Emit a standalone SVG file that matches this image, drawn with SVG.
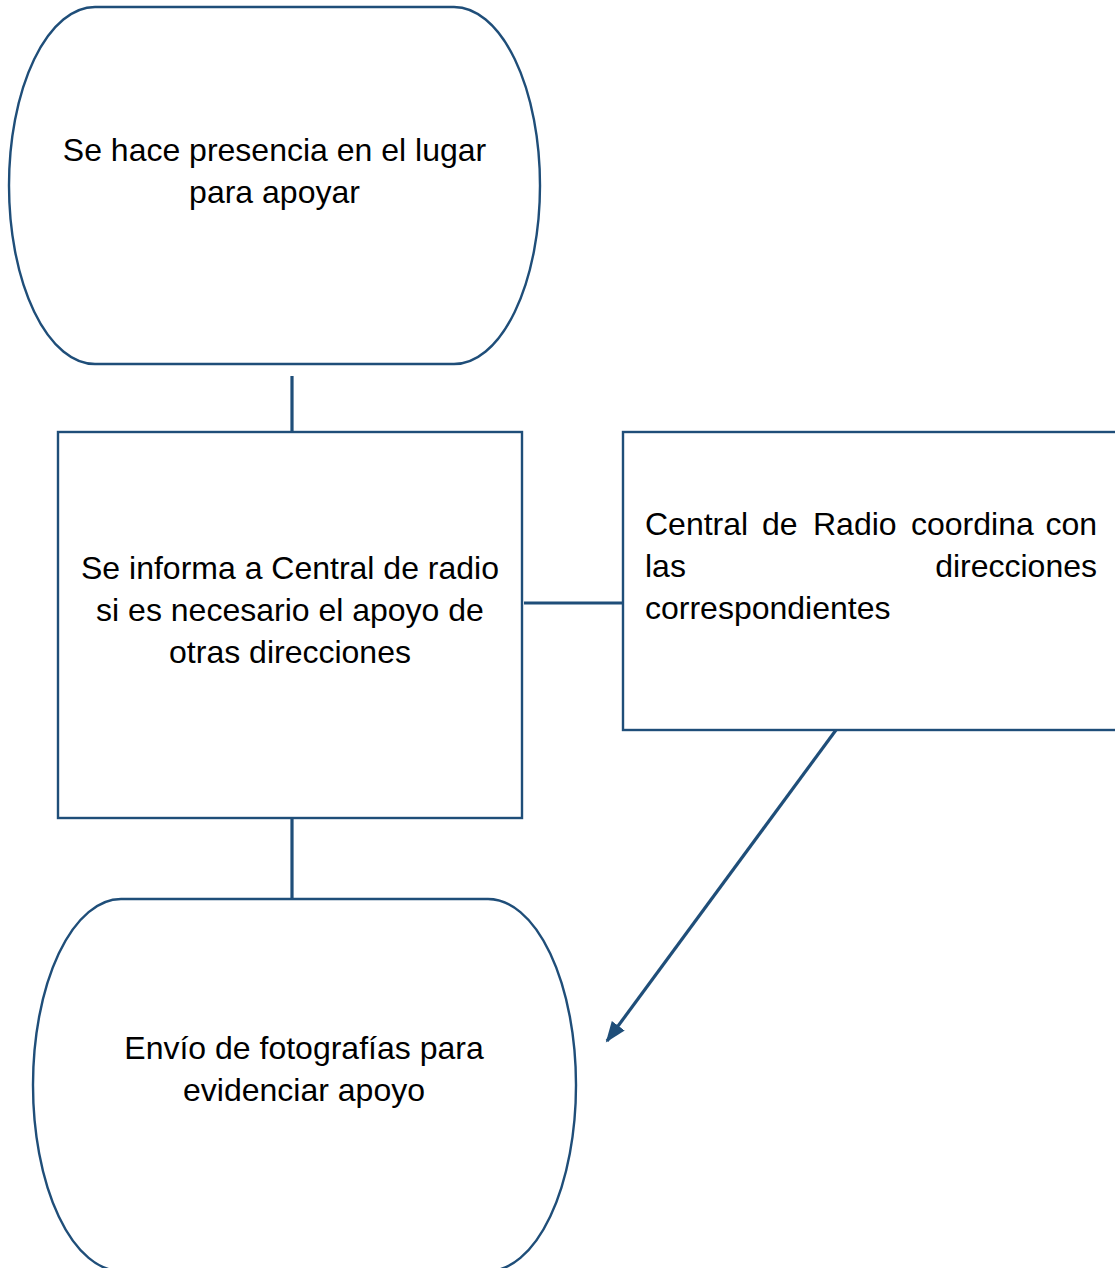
<svg xmlns="http://www.w3.org/2000/svg" width="1115" height="1268" viewBox="0 0 1115 1268">
  <style>
    .shape { fill: #ffffff; stroke: #1F4E79; stroke-width: 2.4; }
    .conn { stroke: #1F4E79; stroke-width: 3.2; fill: none; }
    .lbl { font-family: "Liberation Sans", Arial, sans-serif; font-size: 32px; fill: #000000; }
    .c { text-anchor: middle; }
  </style>
  <defs>
    <marker id="arrow" markerUnits="userSpaceOnUse" markerWidth="24" markerHeight="20" refX="19" refY="8" orient="auto">
      <path d="M0,0 L21,8 L0,16 Z" fill="#1F4E79"/>
    </marker>
  </defs>
  <rect width="1115" height="1268" fill="#ffffff"/>

  <g id="connectors">
    <line class="conn" x1="292" y1="376" x2="292" y2="432"/>
    <line class="conn" x1="292" y1="818" x2="292" y2="899"/>
    <line class="conn" x1="524" y1="603" x2="623" y2="603"/>
    <line class="conn" x1="836" y1="730" x2="607" y2="1041" marker-end="url(#arrow)"/>
  </g>

  <g id="node-presencia">
    <rect class="shape" x="9" y="7" width="531" height="357" rx="86" ry="178.5"/>
    <text class="lbl c" x="274.5" y="161">Se hace presencia en el lugar</text>
    <text class="lbl c" x="274.5" y="203">para apoyar</text>
  </g>

  <g id="node-informa">
    <rect class="shape" x="58" y="432" width="464" height="386"/>
    <text class="lbl c" x="290" y="579">Se informa a Central de radio</text>
    <text class="lbl c" x="290" y="621">si es necesario el apoyo de</text>
    <text class="lbl c" x="290" y="663">otras direcciones</text>
  </g>

  <g id="node-central">
    <rect class="shape" x="623" y="432" width="500" height="298"/>
    <text class="lbl" y="535"><tspan x="645">Central</tspan><tspan x="762">de</tspan><tspan x="813">Radio</tspan><tspan x="911">coordina</tspan><tspan x="1097" text-anchor="end">con</tspan></text>
    <text class="lbl" y="577"><tspan x="645">las</tspan><tspan x="1097" text-anchor="end">direcciones</tspan></text>
    <text class="lbl" x="645" y="619">correspondientes</text>
  </g>

  <g id="node-envio">
    <rect class="shape" x="33" y="899" width="543" height="372" rx="88" ry="186"/>
    <text class="lbl c" x="304" y="1059">Envío de fotografías para</text>
    <text class="lbl c" x="304" y="1101">evidenciar apoyo</text>
  </g>
</svg>
